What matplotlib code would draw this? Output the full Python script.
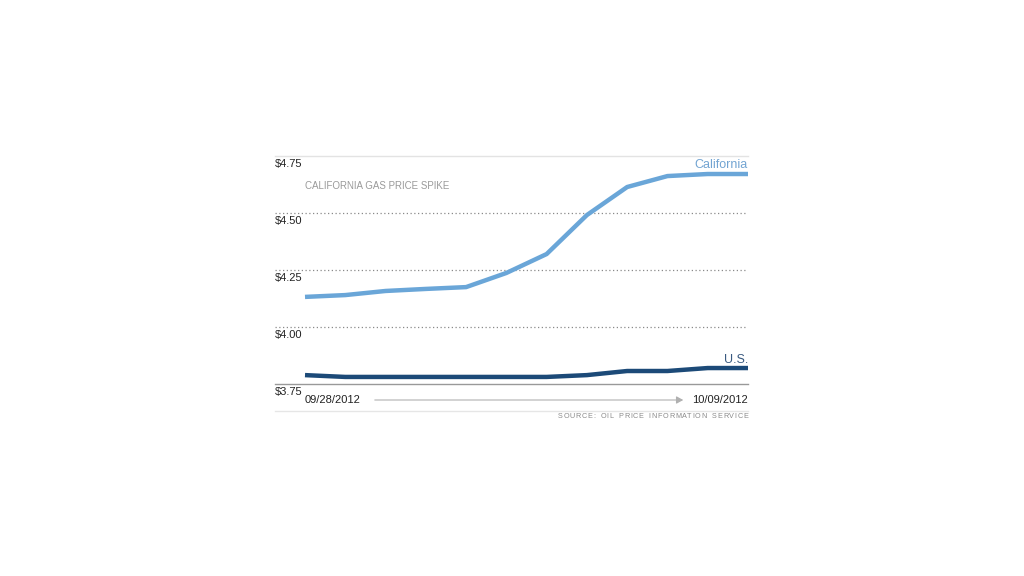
import matplotlib
matplotlib.use("Agg")
import matplotlib.pyplot as plt

dates = ["09/28/2012", "09/29/2012", "09/30/2012", "10/01/2012", "10/02/2012", "10/03/2012",
         "10/04/2012", "10/05/2012", "10/06/2012", "10/07/2012", "10/08/2012", "10/09/2012"]
california = [4.132, 4.140, 4.158, 4.167, 4.175, 4.237, 4.320, 4.491, 4.614, 4.662, 4.671, 4.671]
us = [3.789, 3.781, 3.781, 3.781, 3.781, 3.781, 3.781, 3.789, 3.807, 3.807, 3.820, 3.820]
yticks = [3.75, 4.00, 4.25, 4.50, 4.75]
ytick_labels = ["$3.75", "$4.00", "$4.25", "$4.50", "$4.75"]

plt.rcParams['font.family'] = ['Liberation Sans', 'DejaVu Sans']

fig = plt.figure(figsize=(10.24, 5.76), dpi=100)
W, H = 1024, 576
left_px, right_px, top_px, bot_px = 275, 748, 156, 384
ax = fig.add_axes([left_px / W, 1 - bot_px / H, (right_px - left_px) / W, (bot_px - top_px) / H])

x = list(range(len(dates)))
step = (748 - 305) / (len(dates) - 1)
xmin = -(305 - 275) / step
ax.set_xlim(xmin, len(dates) - 1)
ax.set_ylim(3.75, 4.75)
ax.axis('off')

# gridlines
for v in yticks:
    if v == 4.75:
        ax.axhline(v, color='#e3e3e3', lw=1, zorder=1, clip_on=False)
    elif v == 3.75:
        ax.axhline(v, color='#999999', lw=1, zorder=1, clip_on=False)
    else:
        ax.axhline(v, color='#8a8a8a', lw=0.9, ls=(0, (1, 2)), zorder=1)

ax.plot(x, california, color='#6aa6d8', lw=3.2, solid_capstyle='butt', zorder=3)
ax.plot(x, us, color='#1c4a78', lw=3.2, solid_capstyle='butt', zorder=3)

for v, lab in zip(yticks, ytick_labels):
    ax.text(xmin, v - 0.012, lab, ha='left', va='top', fontsize=8, color='#222222')

ax.text(0, 4.62, "CALIFORNIA GAS PRICE SPIKE", ha='left', va='center', fontsize=7, color='#9a9a9a')
ax.text(len(dates) - 1, 4.712, "California", ha='right', va='center', fontsize=9, color='#72a4d2')
ax.text(len(dates) - 1, 3.855, "U.S.", ha='right', va='center', fontsize=9, color='#3a5a80')

# below-axis annotations in pixel-based figure coords
def fy(py):
    return 1 - py / H

fig.text(305 / W, fy(400), dates[0], ha='left', va='center', fontsize=8, color='#222222')
fig.text(748 / W, fy(400), dates[-1], ha='right', va='center', fontsize=8, color='#222222')
fig.add_artist(matplotlib.patches.FancyArrowPatch((372 / W, fy(400)), (686 / W, fy(400)),
               transform=fig.transFigure, arrowstyle='-|>,head_length=4,head_width=2.2',
               color='#b0b0b0', lw=0.8, mutation_scale=1))
fig.add_artist(matplotlib.lines.Line2D([275 / W, 748 / W], [fy(411), fy(411)],
               transform=fig.transFigure, color='#e6e6e6', lw=1))

# letter-spaced source line
src = "SOURCE: OIL PRICE INFORMATION SERVICE"
renderer = fig.canvas.get_renderer()
chars = []
widths = []
for ch in src:
    t = fig.text(0, 0, ch if ch != " " else "n", fontsize=5.2, color='#8a8a8a',
                 ha='left', va='center')
    widths.append(t.get_window_extent(renderer).width)
    if ch == " ":
        t.remove()
        t = None
    chars.append(t)
total_w = sum(widths)
track = ((748 - 558) - total_w) / (len(src) - 1)
xpos = 558.0
for t, w in zip(chars, widths):
    if t is not None:
        t.set_position((xpos / W, fy(417)))
    xpos += w + track

fig.savefig("out.png", dpi=100, facecolor='white')
